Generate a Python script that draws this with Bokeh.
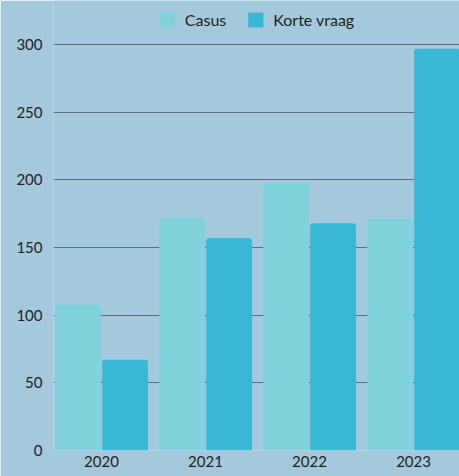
from bokeh.plotting import figure
from bokeh.models import Range1d, FixedTicker, ColumnDataSource
from bokeh.transform import dodge
from bokeh.embed import file_html
from bokeh.resources import INLINE

years = ["2020", "2021", "2022", "2023"]
casus = [108, 172, 198, 171]
korte_vraag = [67, 157, 168, 297]
y_ticks = [0, 50, 100, 150, 200, 250, 300]

BG = "#A4C9DC"
src = ColumnDataSource(dict(x=list(range(len(years))), casus=casus, korte=korte_vraag))

p = figure(width=459, height=476, output_backend="svg", toolbar_location=None,
           x_range=Range1d(-0.4615, 3.442), y_range=Range1d(0, 332.6),
           background_fill_color=BG, border_fill_color=BG,
           min_border_left=53, min_border_right=0, min_border_top=0, min_border_bottom=26)
p.outline_line_color = None

p.vbar(x=dodge("x", -0.226, range=p.x_range), top="casus", width=0.44, source=src,
       color="#7FD1DC", line_color=None, border_radius=(3, 3, 0, 0), legend_label="Casus")
p.vbar(x=dodge("x", 0.226, range=p.x_range), top="korte", width=0.44, source=src,
       color="#38B7D6", line_color=None, border_radius=(3, 3, 0, 0), legend_label="Korte vraag")

p.xgrid.grid_line_color = None
p.ygrid.grid_line_color = "#5E6E78"
p.ygrid.grid_line_width = 1
p.ygrid.ticker = FixedTicker(ticks=y_ticks)
p.yaxis.ticker = FixedTicker(ticks=y_ticks)
p.xaxis.ticker = FixedTicker(ticks=list(range(len(years))))
p.xaxis.major_label_overrides = {i: y for i, y in enumerate(years)}

for ax in (p.xaxis[0], p.yaxis[0]):
    ax.axis_line_color = None
    ax.major_tick_line_color = None
    ax.minor_tick_line_color = None
    ax.major_tick_out = 0
    ax.major_tick_in = 0
    ax.minor_tick_out = 0
    ax.major_label_text_font = "Lato"
    ax.major_label_text_font_size = "15px"
    ax.major_label_text_color = "#222222"
p.yaxis.major_label_standoff = 11
p.xaxis.major_label_standoff = 5

p.legend.location = "top_center"
p.legend.orientation = "horizontal"
p.legend.background_fill_alpha = 0
p.legend.border_line_color = None
p.legend.label_text_font = "Lato"
p.legend.label_text_font_size = "16px"
p.legend.label_text_color = "#222222"
p.legend.glyph_width = 19
p.legend.glyph_height = 19
p.legend.label_standoff = 8
p.legend.spacing = 20
p.legend.margin = 10
p.legend.padding = 2

open("out.html", "w").write(file_html(p, INLINE))
